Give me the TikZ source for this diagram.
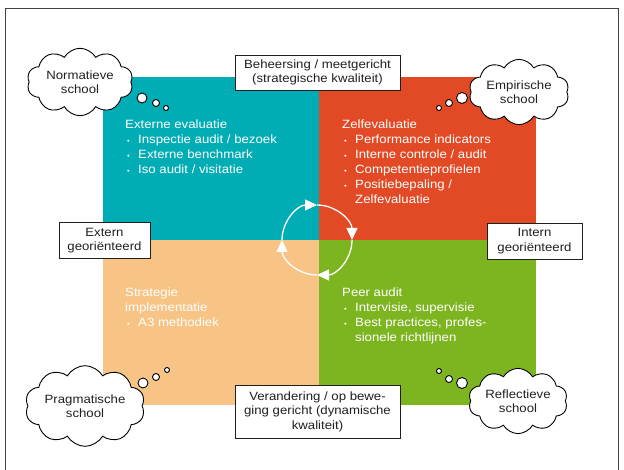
\documentclass[tikz,border=0pt]{standalone}
\usepackage{fontspec}
\setmainfont{Liberation Sans}[FakeStretch=1.1]
\usetikzlibrary{shapes.symbols,arrows.meta}

\definecolor{qteal}{HTML}{00ADB4}
\definecolor{qred}{HTML}{E24A26}
\definecolor{qpeach}{HTML}{F8C486}
\definecolor{qgreen}{HTML}{7DB520}
\definecolor{ink}{HTML}{231F20}

% bullet and hanging indent for the quadrant lists
\newcommand\qbul{\makebox[13pt][l]{\hspace{2pt}{\fontsize{7}{7}\selectfont\textbullet}}}
\newcommand\qind{\hspace*{13pt}}

\tikzset{
  labelbox/.style={draw=ink, line width=0.9pt, fill=white, align=center,
    text=ink, inner sep=2pt, font=\fontsize{12}{14.5}\selectfont},
  thought/.style={cloud, cloud puffs=10, cloud puff arc=120, aspect=1.8,
    draw=black, line width=0.9pt, fill=white, align=center, text=ink,
    inner sep=0pt, font=\fontsize{12}{14.5}\selectfont},
  bubble/.style={circle, draw=black, line width=0.9pt, fill=white, inner sep=0pt},
  qtext/.style={text=white, align=left, inner sep=0pt,
    font=\fontsize{12}{15}\selectfont},
  cyc/.style={white, line width=1.3pt,
    -{Triangle[length=12pt,width=11pt]}},
}

\begin{document}
\begin{tikzpicture}[x=1pt, y=-1pt]
\useasboundingbox (0,0) rectangle (624,470);
\fill[white] (0,0) rectangle (624,470);
\draw[ink!85, line width=0.9pt] (5.5,8.5) rectangle (618.5,490);

% the four quadrants
\fill[qteal]  (103,77)  rectangle (319,240);
\fill[qred]   (319,77)  rectangle (536,240);
\fill[qpeach] (103,240) rectangle (319,405);
\fill[qgreen] (319,240) rectangle (536,405);

% quadrant contents
\node[qtext, anchor=north west] (tl) at (125,119.5)
  {Externe evaluatie\\
   \qbul Inspectie audit / bezoek\\
   \qbul Externe benchmark\\
   \qbul Iso audit / visitatie};
\node[qtext, anchor=north west] (tr) at (342,119.5)
  {Zelfevaluatie\\
   \qbul Performance indicators\\
   \qbul Interne controle / audit\\
   \qbul Competentieprofielen\\
   \qbul Positiebepaling /\\
   \qind Zelfevaluatie};
\node[qtext, anchor=north west] (bl) at (125,287.5)
  {Strategie\\
   implementatie\\
   \qbul A3 methodiek};
\node[qtext, anchor=north west] (br) at (342,287.5)
  {Peer audit\\
   \qbul Intervisie, supervisie\\
   \qbul Best practices, profes-\\
   \qind sionele richtlijnen};

% improvement cycle in the middle
\coordinate (hub) at (317,240);
\draw[cyc] ([shift={(180:35)}]hub) arc[start angle=180, end angle=270, radius=35];
\draw[cyc] ([shift={(270:35)}]hub) arc[start angle=270, end angle=360, radius=35];
\draw[cyc] ([shift={(0:35)}]hub)   arc[start angle=0,   end angle=90,  radius=35];
\draw[cyc] ([shift={(90:35)}]hub)  arc[start angle=90,  end angle=180, radius=35];

% axis labels
\node[labelbox, minimum width=165pt, minimum height=35pt] (axtop) at (317.5,72.5)
  {Beheersing / meetgericht\\(strategische kwaliteit)};
\node[labelbox, minimum width=165pt, minimum height=53pt] (axbot) at (317.5,411.5)
  {Verandering / op bewe-\\ging gericht (dynamische\\kwaliteit)};
\node[labelbox, minimum width=91pt, minimum height=36pt] (axleft) at (104.5,240.5)
  {Extern\\georiënteerd};
\node[labelbox, minimum width=95pt, minimum height=36pt] (axright) at (534.5,241)
  {Intern\\georiënteerd};

% schools of thought
\node[thought, minimum width=106pt, minimum height=60pt] (norm) at (80,82)
  {Normatieve\\school};
\node[bubble, minimum size=10pt] (norm1) at (142,98) {};
\node[bubble, minimum size=7pt]  (norm2) at (156,103) {};
\node[bubble, minimum size=5pt]  (norm3) at (166,108) {};

\node[thought, minimum width=100pt, minimum height=62pt] (emp) at (519,92)
  {Empirische\\school};
\node[bubble, minimum size=11pt] (emp1) at (462,98) {};
\node[bubble, minimum size=7pt]  (emp2) at (449,103) {};
\node[bubble, minimum size=5pt]  (emp3) at (439,108) {};

\node[thought, minimum width=107pt, minimum height=54pt] (prag) at (85,406)
  {Pragmatische\\school};
\node[bubble, minimum size=10pt] (prag1) at (143,383) {};
\node[bubble, minimum size=7pt]  (prag2) at (156,377) {};
\node[bubble, minimum size=5pt]  (prag3) at (167,370) {};

\node[thought, minimum width=99pt, minimum height=60pt] (refl) at (518,401)
  {Reflectieve\\school};
\node[bubble, minimum size=11pt] (refl1) at (462,383) {};
\node[bubble, minimum size=7pt]  (refl2) at (449,379) {};
\node[bubble, minimum size=5pt]  (refl3) at (439,371) {};
\end{tikzpicture}
\end{document}
